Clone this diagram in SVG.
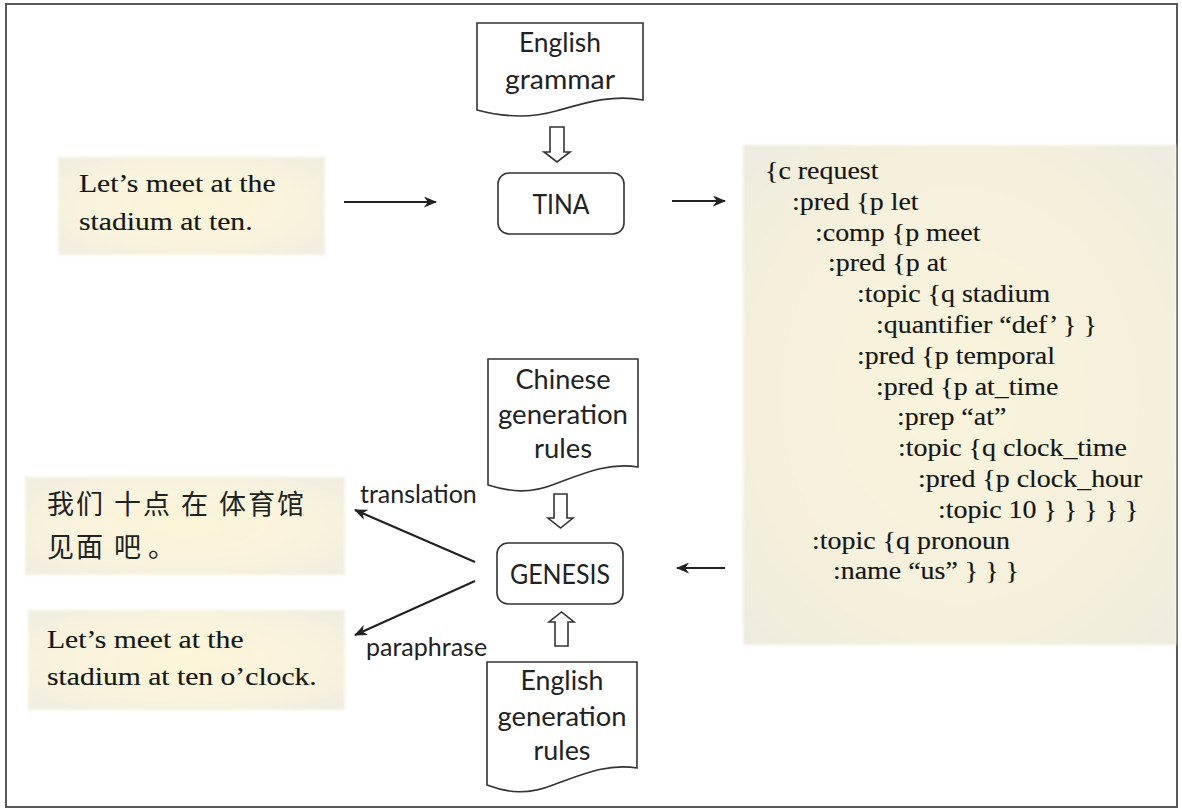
<svg xmlns="http://www.w3.org/2000/svg" width="1182" height="811" viewBox="0 0 1182 811">
  <defs>
    <style>
      .frame { fill: #ffffff; stroke: #5a5a5a; stroke-width: 2; }
      .proc { fill: #ffffff; stroke: #333333; stroke-width: 1.6; }
      .doc { fill: #ffffff; stroke: #333333; stroke-width: 1.6; }
      .hollow { fill: #ffffff; stroke: #333333; stroke-width: 1.6; stroke-linejoin: miter; }
      .sans { font-family: Lato, "Open Sans", "Liberation Sans", sans-serif; font-size: 27px; fill: #222222; }
      .small { font-size: 25px; }
      .serif { font-family: "Liberation Serif", "Times New Roman", serif; fill: #161616; stroke: #161616; stroke-width: 0.15px; }
      .lhs { font-size: 26px; }
      .rhs { font-size: 24.5px; }
      .cjk { font-family: "Noto Sans CJK SC", "Noto Sans CJK TC", sans-serif; font-size: 27px; fill: #222222; }
      .conn { stroke: #222222; stroke-width: 2.2; fill: none; marker-end: url(#head); }
      .paper { filter: url(#soft); }
    </style>
    <marker id="head" viewBox="0 0 12 10" refX="11" refY="5" markerWidth="6" markerHeight="5" markerUnits="strokeWidth" orient="auto">
      <path d="M0,0 L12,5 L0,10 L3.5,5 Z" fill="#222222"/>
    </marker>
    <radialGradient id="beige" cx="50%" cy="50%" r="70%">
      <stop offset="0" stop-color="#fbf6d8"/>
      <stop offset="0.6" stop-color="#f8f3dc"/>
      <stop offset="1" stop-color="#f0ede2"/>
    </radialGradient>
    <radialGradient id="beige2" cx="50%" cy="50%" r="70%">
      <stop offset="0" stop-color="#f9f4da"/>
      <stop offset="0.7" stop-color="#f4f0dc"/>
      <stop offset="1" stop-color="#eeebe0"/>
    </radialGradient>
    <filter id="soft" x="-5%" y="-5%" width="110%" height="110%">
      <feGaussianBlur stdDeviation="1.5"/>
    </filter>
  </defs>

  <!-- outer frame -->
  <rect class="frame" x="6" y="4" width="1171" height="803"/>

  <!-- input sentence -->
  <g id="input-sentence">
    <rect class="paper" x="58" y="157" width="267" height="98" fill="url(#beige)"/>
    <text class="serif lhs" transform="matrix(1.14 0 0 1 79 192)">Let’s meet at the</text>
    <text class="serif lhs" transform="matrix(1.14 0 0 1 79 230)">stadium at ten.</text>
  </g>

  <!-- English grammar document -->
  <g id="english-grammar">
    <path class="doc" d="M477,23 H643 V100 C612,94 585,103 556,111 C528,119 503,117 477,110 Z"/>
    <text class="sans" x="560" y="52" text-anchor="middle" textLength="82" lengthAdjust="spacingAndGlyphs">English</text>
    <text class="sans" x="560" y="89" text-anchor="middle" textLength="110" lengthAdjust="spacingAndGlyphs">grammar</text>
  </g>

  <!-- TINA parser -->
  <g id="tina">
    <rect class="proc" x="498" y="173" width="126" height="61" rx="11"/>
    <text class="sans" x="561" y="214" text-anchor="middle" textLength="57" lengthAdjust="spacingAndGlyphs">TINA</text>
  </g>

  <!-- semantic frame -->
  <g id="semantic-frame">
    <rect class="paper" x="743" y="145" width="433" height="500" fill="url(#beige2)"/>
    <g class="serif rhs">
      <text transform="matrix(1.14 0 0 1 765 179)">{c request</text>
      <text transform="matrix(1.14 0 0 1 792 209.8)">:pred {p let</text>
      <text transform="matrix(1.14 0 0 1 815 240.6)">:comp {p meet</text>
      <text transform="matrix(1.14 0 0 1 828 271.4)">:pred {p at</text>
      <text transform="matrix(1.14 0 0 1 857 302.2)">:topic {q stadium</text>
      <text transform="matrix(1.14 0 0 1 876 333)">:quantifier “def’ } }</text>
      <text transform="matrix(1.14 0 0 1 857 363.8)">:pred {p temporal</text>
      <text transform="matrix(1.14 0 0 1 876 394.6)">:pred {p at_time</text>
      <text transform="matrix(1.14 0 0 1 897 425.4)">:prep “at”</text>
      <text transform="matrix(1.14 0 0 1 898 456.2)">:topic {q clock_time</text>
      <text transform="matrix(1.14 0 0 1 918 487)">:pred {p clock_hour</text>
      <text transform="matrix(1.14 0 0 1 938 517.8)">:topic 10 } } } } }</text>
      <text transform="matrix(1.14 0 0 1 812 548.6)">:topic {q pronoun</text>
      <text transform="matrix(1.14 0 0 1 833 579.4)">:name “us” } } }</text>
    </g>
  </g>

  <!-- Chinese generation rules document -->
  <g id="chinese-rules">
    <path class="doc" d="M488,359 H638 V467 C608,462 582,474 555,484 C530,494 510,492 488,485 Z"/>
    <text class="sans" x="563" y="389" text-anchor="middle" textLength="95" lengthAdjust="spacingAndGlyphs">Chinese</text>
    <text class="sans" x="563" y="424" text-anchor="middle" textLength="130" lengthAdjust="spacingAndGlyphs">generation</text>
    <text class="sans" x="563" y="458" text-anchor="middle" textLength="58" lengthAdjust="spacingAndGlyphs">rules</text>
  </g>

  <!-- GENESIS generator -->
  <g id="genesis">
    <rect class="proc" x="497" y="543" width="126" height="61" rx="11"/>
    <text class="sans" x="560" y="584" text-anchor="middle" textLength="100" lengthAdjust="spacingAndGlyphs">GENESIS</text>
  </g>

  <!-- English generation rules document -->
  <g id="english-rules">
    <path class="doc" d="M487,662 H637 V768 C607,763 581,775 553,785 C528,795 508,793 487,785 Z"/>
    <text class="sans" x="562" y="690" text-anchor="middle" textLength="83" lengthAdjust="spacingAndGlyphs">English</text>
    <text class="sans" x="562" y="726" text-anchor="middle" textLength="129" lengthAdjust="spacingAndGlyphs">generation</text>
    <text class="sans" x="562" y="760" text-anchor="middle" textLength="57" lengthAdjust="spacingAndGlyphs">rules</text>
  </g>

  <!-- Chinese output -->
  <g id="chinese-output">
    <rect class="paper" x="25" y="477" width="320" height="98" fill="url(#beige)"/>
    <text class="cjk" y="514"><tspan x="47" letter-spacing="2">我们</tspan><tspan x="114" letter-spacing="2">十点</tspan><tspan x="181">在</tspan><tspan x="219" letter-spacing="2">体育馆</tspan></text>
    <text class="cjk" y="557"><tspan x="47" letter-spacing="2">见面</tspan><tspan x="114">吧</tspan><tspan x="148">。</tspan></text>
  </g>

  <!-- English paraphrase output -->
  <g id="paraphrase-output">
    <rect class="paper" x="28" y="610" width="317" height="100" fill="url(#beige)"/>
    <text class="serif lhs" transform="matrix(1.14 0 0 1 47 648)">Let’s meet at the</text>
    <text class="serif lhs" transform="matrix(1.14 0 0 1 47 685)">stadium at ten o’clock.</text>
  </g>

  <!-- connectors -->
  <g id="connectors">
    <line class="conn" x1="344" y1="202" x2="436" y2="202"/>
    <line class="conn" x1="672" y1="201" x2="725" y2="201"/>
    <line class="conn" x1="725" y1="568" x2="677" y2="568"/>
    <line class="conn" x1="475" y1="562" x2="355" y2="510"/>
    <line class="conn" x1="475" y1="581" x2="355" y2="635"/>
    <!-- hollow block arrows feeding the grammars into the engines -->
    <path class="hollow" d="M550,127 H564 V152 H570 L557,162 L544,152 H550 Z"/>
    <path class="hollow" d="M554,494 H567 V518 H573 L560.5,528 L548,518 H554 Z"/>
    <path class="hollow" d="M555,646 H568 V622 H574 L561.5,612 L549,622 H555 Z"/>
    <text class="sans small" x="360" y="503">translation</text>
    <text class="sans small" x="366" y="656">paraphrase</text>
  </g>
</svg>
